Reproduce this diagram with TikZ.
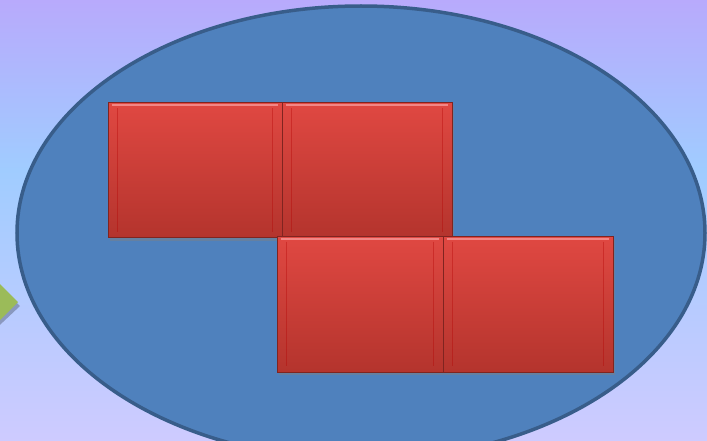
\documentclass[tikz,border=0pt]{standalone}
\usepackage{tikz}
\usetikzlibrary{shapes.geometric, positioning, shadows}
\definecolor{skytop}{RGB}{184,170,252}
\definecolor{skymid}{RGB}{160,204,255}
\definecolor{skybot}{RGB}{206,203,255}
\definecolor{fieldblue}{RGB}{79,129,189}
\definecolor{fieldline}{RGB}{56,93,138}
\definecolor{brickhi}{RGB}{224,72,66}
\definecolor{bricklo}{RGB}{180,52,45}
\definecolor{brickedge}{RGB}{128,36,32}
\definecolor{leafgreen}{RGB}{155,187,89}

\begin{document}
\begin{tikzpicture}[x=1pt, y=-1pt,
  field/.style={ellipse, draw=fieldline, line width=3.5pt, fill=fieldblue, inner sep=0pt},
  brick/.style={rectangle, draw=brickedge, line width=0.9pt, top color=brickhi, bottom color=bricklo,
    minimum height=135pt, inner sep=0pt,
    drop shadow={opacity=0.45, shadow xshift=2pt, shadow yshift=-3pt}},
  glint/.style={draw=red!30!white, line width=2pt, opacity=0.6},
  bevel/.style={draw=red!70!black, line width=0.6pt, opacity=0.35}
]
  \useasboundingbox (0,0) rectangle (707,441);
  \clip (0,0) rectangle (707,441);
  % background
  \fill[top color=skytop, bottom color=skymid] (0,0) rectangle (707,170);
  \fill[top color=skymid, bottom color=skybot] (0,170) rectangle (707,441);

  % arrow head coming from the left
  \fill[black, opacity=0.25] (-14,274) -- (20,306) -- (-14,338) -- cycle;
  \fill[leafgreen] (-16,268) -- (18,302) -- (-16,336) -- cycle;

  \node[field, minimum width=688pt, minimum height=454pt] (field) at (361,233) {};

  \node[brick, minimum width=174pt] (b1) at (195,170) {};
  \node[brick, minimum width=170pt] (b2) at (367,170) {};
  \node[brick, minimum width=166pt, minimum height=136pt] (b3) at (360,304) {};
  \node[brick, minimum width=170pt, minimum height=136pt] (b4) at (528,304) {};

  \foreach \b in {b1, b2, b3, b4} {
    \draw[glint] ([xshift=4pt, yshift=-3pt]\b.north west) -- ([xshift=-4pt, yshift=-3pt]\b.north east);
    \draw[bevel] ([xshift=10pt, yshift=-6pt]\b.north west) -- ([xshift=10pt, yshift=6pt]\b.south west);
    \draw[bevel] ([xshift=-10pt, yshift=-6pt]\b.north east) -- ([xshift=-10pt, yshift=6pt]\b.south east);
  }
\end{tikzpicture}
\end{document}
